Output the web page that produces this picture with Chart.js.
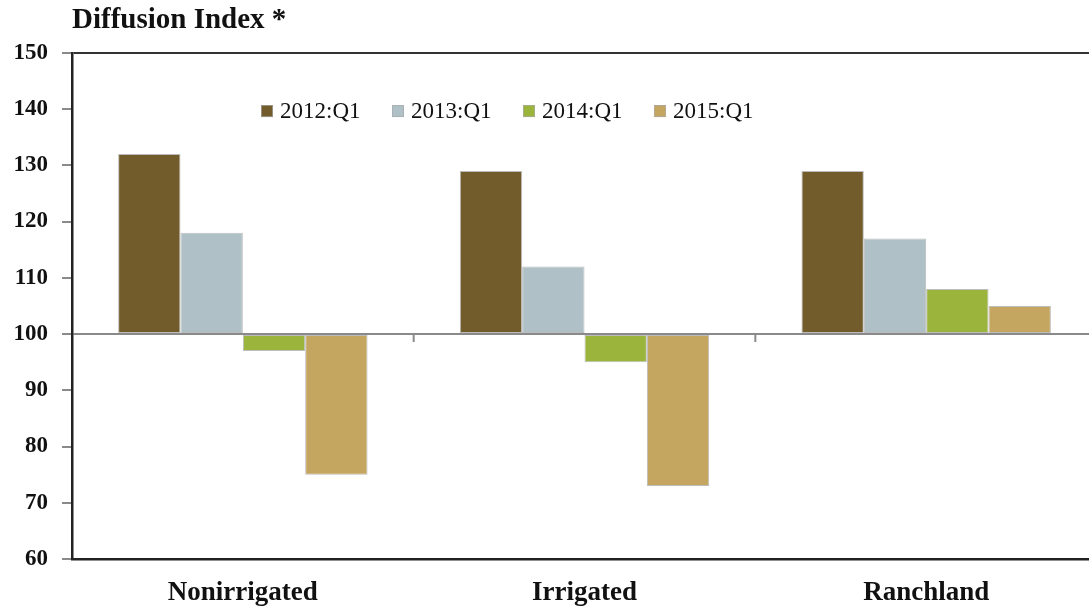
<!DOCTYPE html>
<html>
<head>
<meta charset="utf-8">
<script src="https://cdn.jsdelivr.net/npm/chart.js@4/dist/chart.umd.min.js"></script>
<style>
  html, body { margin: 0; padding: 0; background: #fff; overflow: hidden; }
  #wrap { width: 1097px; height: 606px; }
</style>
</head>
<body>
<div id="wrap"><canvas id="c" width="1097" height="606"></canvas></div>
<script>
const categories = ["Nonirrigated", "Irrigated", "Ranchland"];
const seriesLabels = ["2012:Q1", "2013:Q1", "2014:Q1", "2015:Q1"];
const q2012 = [132, 129, 129];
const q2013 = [118, 112, 117];
const q2014 = [97, 95, 108];
const q2015 = [75, 73, 105];
const yTicks = [60, 70, 80, 90, 100, 110, 120, 130, 140, 150];
const baseValue = 100;
const titleText = "Diffusion Index *";

const colors = ["#725C2B", "#AFC1C6", "#9BB43C", "#C5A661"];
const seriesValues = [q2012, q2013, q2014, q2015];
const FONT = "'Liberation Serif', 'Times New Roman', serif";

const datasets = seriesValues.map((vals, i) => ({
  label: seriesLabels[i],
  data: vals,
  base: baseValue,
  backgroundColor: colors[i],
  borderColor: "rgba(160,160,160,0.7)",
  borderWidth: 1,
  borderSkipped: false,
  categoryPercentage: 0.73,
  barPercentage: 1.0
}));

const boundaryTicks = {
  id: "boundaryTicks",
  afterDatasetsDraw(chart) {
    const x = chart.scales.x, y = chart.scales.y;
    const ctx = chart.ctx;
    const yp = y.getPixelForValue(baseValue);
    const n = categories.length;
    const step = (x.getPixelForValue(1) - x.getPixelForValue(0));
    ctx.save();
    ctx.strokeStyle = "#8a8a8a";
    ctx.lineWidth = 2;
    for (let i = 0; i < n - 1; i++) {
      const xp = x.getPixelForValue(i) + step / 2;
      ctx.beginPath();
      ctx.moveTo(xp, yp);
      ctx.lineTo(xp, yp + 8);
      ctx.stroke();
    }
    ctx.restore();
  }
};

const customLegend = {
  id: "customLegend",
  afterDraw(chart) {
    const ctx = chart.ctx;
    const y = chart.scales.y;
    const yc = y.getPixelForValue(140) + 2;
    const startX = 261, gap = 131, sq = 12;
    ctx.save();
    ctx.font = "23px " + FONT;
    ctx.textBaseline = "middle";
    ctx.textAlign = "left";
    chart.data.datasets.forEach((ds, i) => {
      const x0 = startX + i * gap;
      ctx.fillStyle = ds.backgroundColor;
      ctx.fillRect(x0, yc - sq / 2, sq, sq);
      ctx.strokeStyle = "rgba(170,170,170,0.7)";
      ctx.lineWidth = 1;
      ctx.strokeRect(x0 + 0.5, yc - sq / 2 + 0.5, sq - 1, sq - 1);
      ctx.fillStyle = "#111";
      ctx.fillText(ds.label, x0 + 19, yc + 1);
    });
    ctx.restore();
  }
};

new Chart(document.getElementById("c"), {
  type: "bar",
  data: { labels: categories, datasets },
  plugins: [boundaryTicks, customLegend],
  options: {
    responsive: false,
    animation: false,
    layout: { padding: { left: 0, right: 0, top: 0, bottom: 0 } },
    plugins: {
      legend: { display: false },
      tooltip: { enabled: false },
      title: {
        display: true,
        text: titleText,
        align: "start",
        fullSize: false,
        color: "#111",
        font: { family: FONT, size: 29, weight: "bold" },
        padding: { top: 3, bottom: 15 }
      }
    },
    scales: {
      x: {
        afterFit(scale) { scale.height = 47; },
        grid: { display: false },
        border: { display: true, color: "#222", width: 2.5 },
        ticks: {
          color: "#111",
          padding: 10,
          maxRotation: 0,
          font: { family: FONT, size: 27, weight: "bold" }
        }
      },
      y: {
        min: yTicks[0],
        max: yTicks[yTicks.length - 1],
        afterFit(scale) { scale.width = 72; },
        afterBuildTicks(scale) { scale.ticks = yTicks.map(v => ({ value: v })); },
        border: { display: true, color: "#222", width: 2.5 },
        grid: {
          drawTicks: true,
          tickLength: 10,
          tickColor: "#8a8a8a",
          color: ctx => ctx.tick && ctx.tick.value === yTicks[yTicks.length - 1] ? "#333" : (ctx.tick && ctx.tick.value === baseValue ? "#8a8a8a" : "rgba(0,0,0,0)"),
          lineWidth: 2
        },
        ticks: {
          color: "#111",
          padding: 14,
          font: { family: FONT, size: 23, weight: "bold" }
        }
      }
    }
  }
});
</script>
</body>
</html>
